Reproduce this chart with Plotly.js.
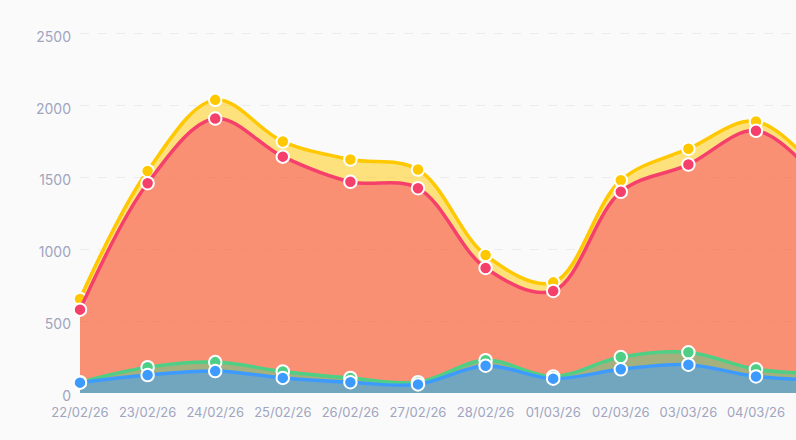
<!DOCTYPE html>
<html><head><meta charset="utf-8">
<script src="https://cdn.plot.ly/plotly-3.0.1.min.js"></script>
<style>html,body{margin:0;padding:0;background:#fafafa}</style></head>
<body><div id="c" style="width:796px;height:440px"></div>
<script>
const categories=["22/02/26","23/02/26","24/02/26","25/02/26","26/02/26","27/02/26","28/02/26","01/03/26","02/03/26","03/03/26","04/03/26","05/03/26"];
const yellowValues=[655,1545,2040,1750,1625,1555,960,770,1480,1700,1890,1500];
const redValues=[580,1460,1910,1645,1470,1425,870,710,1400,1590,1825,1440];
const greenValues=[75,180,215,150,105,75,228,115,250,283,165,135];
const blueValues=[72,125,153,105,75,60,190,100,165,197,115,90];
const tickLabels=categories.slice(0,11);
const yTicks=[0,500,1000,1500,2000,2500];
function area(y,line,fill){
  return {type:'scatter',mode:'lines+markers',x:categories,y:y,fill:'tozeroy',fillcolor:fill,
    line:{color:line,width:3.5,shape:'spline',smoothing:1},
    marker:{color:line,size:12.5,line:{color:'#ffffff',width:2}},cliponaxis:false,hoverinfo:'x+y'};
}
const traces=[
  area(yellowValues,'#FFC800','rgba(255,200,0,0.5)'),
  area(redValues,'#F5406C','rgba(245,64,108,0.5)'),
  area(greenValues,'#4FCF85','rgba(79,207,133,0.5)'),
  area(blueValues,'#3D9BFF','rgba(61,155,255,0.5)')
];
const layout={width:796,height:440,paper_bgcolor:'#fafafa',plot_bgcolor:'#fafafa',showlegend:false,
  margin:{l:80,r:0,t:0,b:47.3},
  font:{family:'Inter, sans-serif',size:14,color:'#A0A5C0'},
  xaxis:{type:'category',categoryorder:'array',categoryarray:categories,range:[0,10.592],tickvals:tickLabels,ticktext:tickLabels,
    showgrid:false,zeroline:false,showline:false,ticks:'',ticklen:0,tickangle:0,tickfont:{size:13,color:'#A0A5C0'},ticklabelstandoff:10,automargin:false},
  yaxis:{range:[0,2735],tickvals:yTicks,ticks:'',showline:false,zeroline:false,gridcolor:'#EBEBF0',griddash:'dash',gridwidth:1,
    tickfont:{size:14,color:'#A0A5C0'},ticklabelstandoff:8,ticklabelshift:3,automargin:false}
};
Plotly.newPlot('c',traces,layout,{displayModeBar:false,staticPlot:true});
</script></body></html>
